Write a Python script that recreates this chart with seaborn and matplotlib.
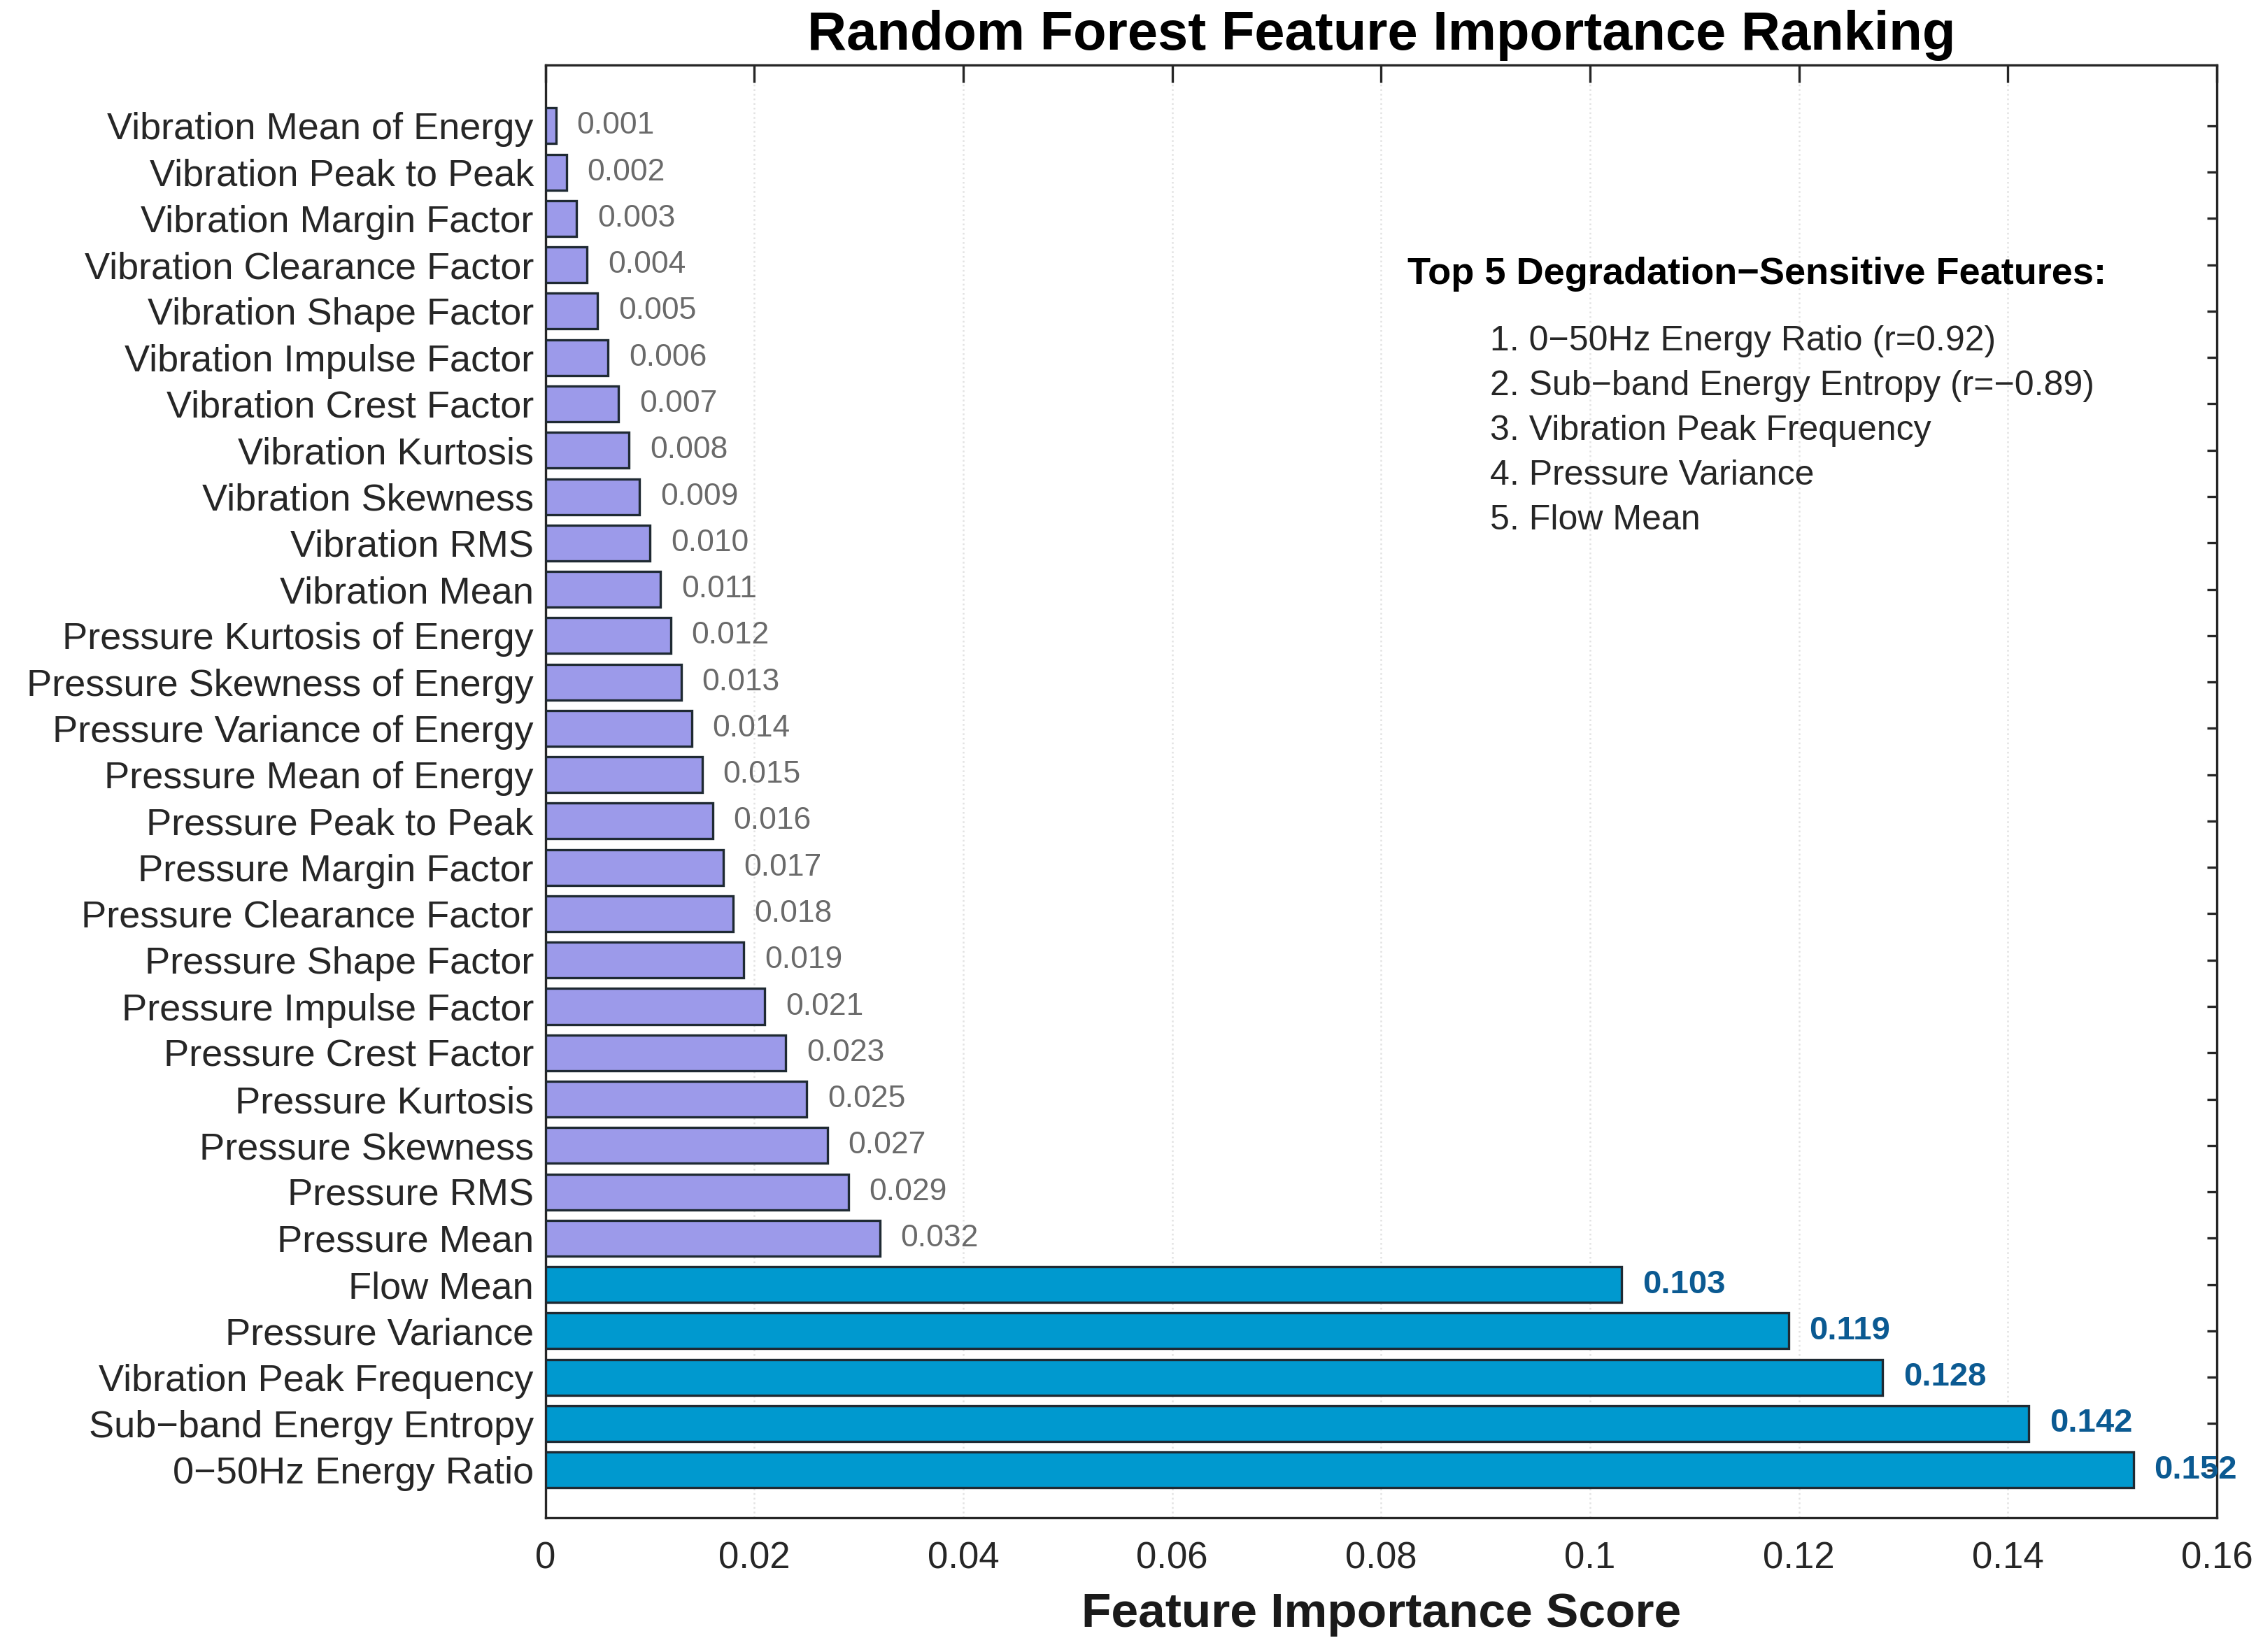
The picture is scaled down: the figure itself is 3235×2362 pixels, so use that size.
import matplotlib
matplotlib.use("Agg")
import matplotlib.pyplot as plt
import seaborn as sns
import pandas as pd

# features from top of chart to bottom
features = [
    "Vibration Mean of Energy", "Vibration Peak to Peak", "Vibration Margin Factor",
    "Vibration Clearance Factor", "Vibration Shape Factor", "Vibration Impulse Factor",
    "Vibration Crest Factor", "Vibration Kurtosis", "Vibration Skewness", "Vibration RMS",
    "Vibration Mean", "Pressure Kurtosis of Energy", "Pressure Skewness of Energy",
    "Pressure Variance of Energy", "Pressure Mean of Energy", "Pressure Peak to Peak",
    "Pressure Margin Factor", "Pressure Clearance Factor", "Pressure Shape Factor",
    "Pressure Impulse Factor", "Pressure Crest Factor", "Pressure Kurtosis",
    "Pressure Skewness", "Pressure RMS", "Pressure Mean", "Flow Mean",
    "Pressure Variance", "Vibration Peak Frequency", "Sub\u2212band Energy Entropy",
    "0\u221250Hz Energy Ratio",
]
importance = [
    0.001, 0.002, 0.003, 0.004, 0.005, 0.006, 0.007, 0.008, 0.009, 0.010,
    0.011, 0.012, 0.013, 0.014, 0.015, 0.016, 0.017, 0.018, 0.019, 0.021,
    0.023, 0.025, 0.027, 0.029, 0.032, 0.103, 0.119, 0.128, 0.142, 0.152,
]
top5 = ["Flow Mean", "Pressure Variance", "Vibration Peak Frequency",
        "Sub\u2212band Energy Entropy", "0\u221250Hz Energy Ratio"]

header = "Top 5 Degradation\u2212Sensitive Features:"
top5_lines = [
    "1. 0\u221250Hz Energy Ratio (r=0.92)",
    "2. Sub\u2212band Energy Entropy (r=\u22120.89)",
    "3. Vibration Peak Frequency",
    "4. Pressure Variance",
    "5. Flow Mean",
]

purple = "#9C9AEA"
blue = "#0099CF"
df = pd.DataFrame({"feature": features, "score": importance})
colors = {f: (blue if f in top5 else purple) for f in features}

sns.set_style("white")
plt.rcParams['font.family'] = ['Liberation Sans', 'DejaVu Sans']

fig, ax = plt.subplots(figsize=(16.175, 11.81), dpi=200)
fig.subplots_adjust(left=0.241, right=0.9796, top=0.9606, bottom=0.0813)

sns.barplot(data=df, x="score", y="feature", hue="feature", palette=colors,
            saturation=1, legend=False, orient="h", width=0.77,
            edgecolor="#1f2a33", linewidth=1.2, ax=ax, zorder=3)

for i, (f, v) in enumerate(zip(features, importance)):
    if f in top5:
        ax.text(v + 0.002, i, f"{v:.3f}", ha="left", va="center",
                fontsize=17, fontweight="bold", color="#0B5A92")
    else:
        ax.text(v + 0.002, i, f"{v:.3f}", ha="left", va="center",
                fontsize=16, color="#6a6a6a")

ax.text(0.0825, 3.2, header, ha="left", va="center", fontsize=19.5,
        fontweight="bold", color="black")
for k, line in enumerate(top5_lines):
    ax.text(0.0904, 4.65 + k * 0.965, line, ha="left", va="center",
            fontsize=18, color="#262626")

ax.set_xlim(0, 0.16)
ax.set_ylim(30.03, -1.31)
ax.set_xticks([0, 0.02, 0.04, 0.06, 0.08, 0.1, 0.12, 0.14, 0.16])
ax.set_xticklabels(["0", "0.02", "0.04", "0.06", "0.08", "0.1", "0.12", "0.14", "0.16"])
ax.tick_params(axis="x", direction="in", length=9, width=1.2, top=True,
               labelsize=19, colors="#262626", pad=12)
ax.tick_params(axis="y", direction="in", length=5, width=1.2, right=True,
               labelsize=19.5, colors="#262626", pad=6)
ax.xaxis.grid(True, linestyle=":", color="#e2e2e2", linewidth=0.9, zorder=0)
ax.yaxis.grid(False)
for s in ax.spines.values():
    s.set_color("#262626")
    s.set_linewidth(1.2)

ax.set_ylabel("")
ax.set_xlabel("Feature Importance Score", fontsize=25, fontweight="bold",
              color="#1a1a1a", labelpad=8)
ax.set_title("Random Forest Feature Importance Ranking", fontsize=28,
             fontweight="bold", color="black", pad=8)

fig.savefig("out.png", dpi=200)
